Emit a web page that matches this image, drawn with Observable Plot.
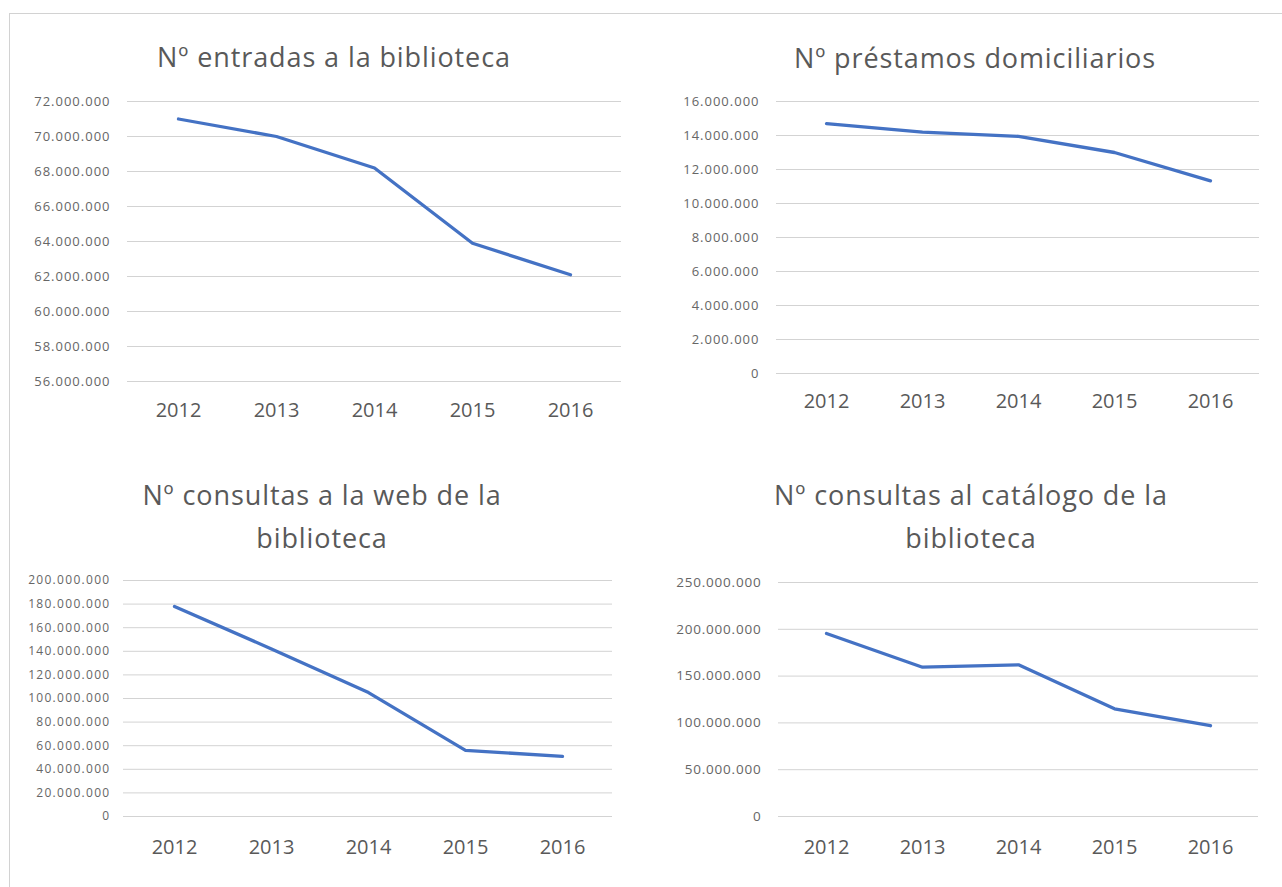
<!DOCTYPE html>
<html><head><meta charset="utf-8">
<script src="https://cdn.jsdelivr.net/npm/d3@7"></script>
<script src="https://cdn.jsdelivr.net/npm/@observablehq/plot@0.6"></script>
<style>
body{margin:0;background:#fff;}
#root{position:relative;width:1282px;height:887px;overflow:hidden;font-family:"Open Sans",sans-serif;background:#fff;}
.frame{position:absolute;left:9px;top:13px;right:-2px;bottom:-2px;border-top:1px solid #d2d2d2;border-left:1px solid #d2d2d2;}
.title{position:absolute;width:600px;text-align:center;font-size:27px;line-height:43px;color:#595959;letter-spacing:0.9px;white-space:nowrap;}
.panel{position:absolute;}
</style></head><body><div id="root"><div class="frame"></div></div>
<script>
// ---- data ----
const years = ["2012", "2013", "2014", "2015", "2016"];
const entradas = [71000000, 70000000, 68200000, 63900000, 62100000];
const prestamos = [14700000, 14200000, 13950000, 13000000, 11330000];
const consultasWeb = [178000000, 142000000, 105000000, 56000000, 51000000];
const consultasCatalogo = [195500000, 159500000, 162000000, 115000000, 97000000];

const ticksEntradas = [56000000, 58000000, 60000000, 62000000, 64000000, 66000000, 68000000, 70000000, 72000000];
const ticksPrestamos = [0, 2000000, 4000000, 6000000, 8000000, 10000000, 12000000, 14000000, 16000000];
const ticksWeb = [0, 20000000, 40000000, 60000000, 80000000, 100000000, 120000000, 140000000, 160000000, 180000000, 200000000];
const ticksCatalogo = [0, 50000000, 100000000, 150000000, 200000000, 250000000];

const titleEntradas = ["Nº entradas a la biblioteca"];
const titlePrestamos = ["Nº préstamos domiciliarios"];
const titleWeb = ["Nº consultas a la web de la", "biblioteca"];
const titleCatalogo = ["Nº consultas al catálogo de la", "biblioteca"];

// ---- rendering ----
const esFormat = d3.formatLocale({decimal: ",", thousands: ".", grouping: [3], currency: ["", "€"]}).format(",d");
const root = document.getElementById("root");

function panel(cfg) {
  const data = years.map((y, i) => ({year: y, value: cfg.values[i]}));
  const svg = Plot.plot({
    width: cfg.width, height: cfg.height,
    marginLeft: cfg.ml, marginRight: cfg.mr, marginTop: cfg.mt, marginBottom: cfg.mb,
    style: {fontFamily: "'Open Sans', sans-serif", background: "transparent", overflow: "visible"},
    x: {type: "point", domain: years, padding: 0.5, label: null},
    y: {domain: [cfg.ticks[0], cfg.ticks[cfg.ticks.length - 1]], label: null},
    marks: [
      Plot.gridY(cfg.ticks, {stroke: "#d3d3d3", strokeOpacity: 1, strokeWidth: 1}),
      Plot.axisY(cfg.ticks, {tickSize: 0, tickPadding: cfg.yPad, tickFormat: esFormat, fontSize: cfg.yFont, fill: "#666666", label: null}),
      Plot.axisX({tickSize: 0, tickPadding: cfg.xPad, fontSize: 20, fill: "#595959", label: null}),
      Plot.lineY(data, {x: "year", y: "value", stroke: "#4472C4", strokeWidth: 3.3})
    ]
  });
  svg.classList.add("panel");
  svg.style.left = cfg.left + "px";
  svg.style.top = cfg.top + "px";
  svg.querySelectorAll('g[aria-label="y-axis tick label"]').forEach(g => g.style.letterSpacing = cfg.yLs + "px");
  root.appendChild(svg);
  const t = document.createElement("div");
  t.className = "title";
  t.style.left = (cfg.titleX - 300) + "px";
  t.style.top = cfg.titleTop + "px";
  t.innerHTML = cfg.title.join("<br>");
  root.appendChild(t);
}

panel({values: entradas, ticks: ticksEntradas, title: titleEntradas,
  left: 0, top: 80, width: 640, height: 350, ml: 127, mr: 19, mt: 21, mb: 49,
  yPad: 17, xPad: 21, yFont: 13, yLs: 1, titleX: 334, titleTop: 35});
panel({values: prestamos, ticks: ticksPrestamos, title: titlePrestamos,
  left: 640, top: 80, width: 642, height: 350, ml: 136, mr: 23, mt: 21, mb: 57,
  yPad: 17, xPad: 20, yFont: 13, yLs: 1, titleX: 975, titleTop: 36});
panel({values: consultasWeb, ticks: ticksWeb, title: titleWeb,
  left: 0, top: 560, width: 640, height: 320, ml: 123, mr: 28, mt: 20, mb: 64,
  yPad: 13, xPad: 23, yFont: 12, yLs: 1.3, titleX: 322, titleTop: 473});
panel({values: consultasCatalogo, ticks: ticksCatalogo, title: titleCatalogo,
  left: 640, top: 560, width: 642, height: 320, ml: 138, mr: 24, mt: 22, mb: 64,
  yPad: 17, xPad: 23, yFont: 13.5, yLs: 0.8, titleX: 971, titleTop: 473});
</script>
</body></html>
